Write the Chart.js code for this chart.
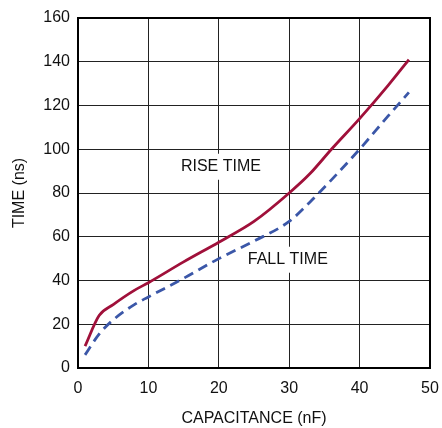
<!DOCTYPE html>
<html>
<head>
<meta charset="utf-8">
<script src="https://cdn.jsdelivr.net/npm/chart.js@4"></script>
<style>
  html, body { margin: 0; padding: 0; background: #fff; }
  #wrap { width: 442px; height: 428px; }
</style>
</head>
<body>
<div id="wrap"><canvas id="myChart"></canvas></div>
<script>
// values
const capacitance = [1, 3, 5, 8, 10, 15, 20, 25, 30, 33, 36, 40, 44, 47];
const riseTime = [10, 24, 29, 35.5, 39, 48.5, 57.5, 67, 80, 89, 100, 114, 129, 141];
const fallTime = [6, 15.5, 22, 29, 32.5, 41, 50, 58, 67, 76, 86, 100, 115, 126];
const xTicks = [0, 10, 20, 30, 40, 50];
const yTicks = [0, 20, 40, 60, 80, 100, 120, 140, 160];
const curveLabels = [
    { text: "RISE TIME", x: 20.3, y: 92 },
    { text: "FALL TIME", x: 29.8, y: 49.5 }
];

const FONT = "'Liberation Sans', Arial, sans-serif";

function toPoints(xs, ys) {
    let pts = [];
    for (let i = 0; i < xs.length; i++) {
        pts.push({ x: xs[i], y: ys[i] });
    }
    return pts;
}

// text labels on the plot, with a white box that cuts the grid
const curveLabelPlugin = {
    id: "curveLabels",
    beforeDatasetsDraw(chart) {
        let ctx = chart.ctx;
        let xs = chart.scales.x;
        let ys = chart.scales.y;
        ctx.save();
        ctx.font = "16px " + FONT;
        ctx.textAlign = "center";
        ctx.textBaseline = "middle";
        curveLabels.forEach(function (l) {
            let px = xs.getPixelForValue(l.x);
            let py = ys.getPixelForValue(l.y);
            let w = ctx.measureText(l.text).width;
            ctx.fillStyle = "#fff";
            ctx.fillRect(px - w / 2 - 3, py - 13, w + 6, 26);
            ctx.fillStyle = "#111";
            ctx.fillText(l.text, px, py);
        });
        ctx.restore();
    },
    afterDraw(chart) {
        // heavier frame round the plot
        let a = chart.chartArea;
        let ctx = chart.ctx;
        ctx.save();
        ctx.strokeStyle = "#000";
        ctx.lineWidth = 2;
        ctx.strokeRect(a.left, a.top, a.right - a.left, a.bottom - a.top);
        ctx.restore();
    }
};

let ctx = document.getElementById("myChart");
new Chart(ctx, {
    type: "line",
    data: {
        datasets: [
            {
                label: "RISE TIME",
                data: toPoints(capacitance, riseTime),
                borderColor: "#a0103a",
                borderWidth: 2.8,
                pointRadius: 0,
                cubicInterpolationMode: "monotone",
                fill: false
            },
            {
                label: "FALL TIME",
                data: toPoints(capacitance, fallTime),
                borderColor: "#3b57a8",
                borderWidth: 2.8,
                borderDash: [10, 6],
                pointRadius: 0,
                cubicInterpolationMode: "monotone",
                fill: false
            }
        ]
    },
    options: {
        responsive: true,
        maintainAspectRatio: false,
        animation: false,
        layout: {
            padding: { top: 18, right: 12, left: 0, bottom: 0 }
        },
        plugins: {
            legend: { display: false },
            tooltip: { enabled: false }
        },
        scales: {
            x: {
                type: "linear",
                min: 0,
                max: 50,
                afterBuildTicks: function (scale) {
                    scale.ticks = xTicks.map(v => ({ value: v }));
                },
                afterFit: function (scale) {
                    scale.height = 60;
                    scale.paddingLeft = 0;
                    scale.paddingRight = 0;
                },
                grid: {
                    color: "#222",
                    lineWidth: 1,
                    drawTicks: false
                },
                border: { display: true, color: "#000", width: 2 },
                ticks: {
                    color: "#111",
                    padding: 11,
                    maxRotation: 0,
                    font: { family: FONT, size: 16 }
                },
                title: {
                    display: true,
                    text: "CAPACITANCE (nF)",
                    color: "#111",
                    padding: { top: 4, bottom: 0 },
                    font: { family: FONT, size: 16 }
                }
            },
            y: {
                type: "linear",
                min: 0,
                max: 160,
                afterBuildTicks: function (scale) {
                    scale.ticks = yTicks.map(v => ({ value: v }));
                },
                afterFit: function (scale) {
                    scale.width = 78;
                    scale.paddingTop = 0;
                    scale.paddingBottom = 0;
                },
                grid: {
                    color: "#222",
                    lineWidth: 1,
                    drawTicks: false
                },
                border: { display: true, color: "#000", width: 2 },
                ticks: {
                    color: "#111",
                    padding: 8,
                    font: { family: FONT, size: 16 }
                },
                title: {
                    display: true,
                    text: "TIME (ns)",
                    color: "#111",
                    padding: { top: 10, bottom: 6 },
                    font: { family: FONT, size: 16 }
                }
            }
        }
    },
    plugins: [curveLabelPlugin]
});
</script>
</body>
</html>
